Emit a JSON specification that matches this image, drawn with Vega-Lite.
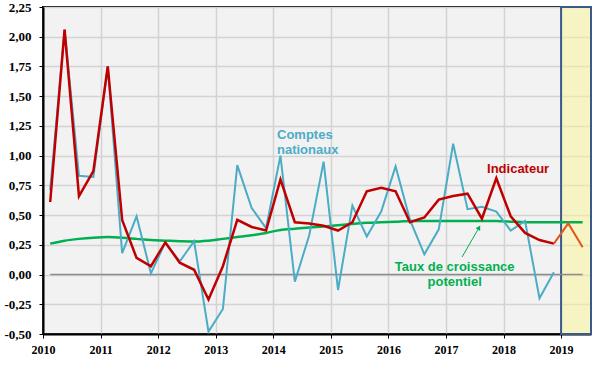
{
  "$schema": "https://vega.github.io/schema/vega-lite/v6.json",
  "width": 548,
  "height": 327,
  "autosize": {"type": "none"},
  "padding": {"left": 43, "top": 7, "right": 9, "bottom": 37},
  "background": "white",
  "config": {
    "view": {"fill": "#F2F2F2", "stroke": "black", "strokeWidth": 2},
    "axis": {
      "labelFont": "Liberation Serif", "labelFontWeight": "bold", "labelColor": "black",
      "tickColor": "black", "tickSize": 4, "domainColor": "black", "domainWidth": 2,
      "grid": true, "gridColor": "#D3D3D3", "gridWidth": 1.5, "labelFlush": false, "labelOverlap": false, "title": null
    },
    "axisX": {"labelFontSize": 12, "labelPadding": 6, "labelDx": 7},
    "axisY": {"labelFontSize": 13, "labelPadding": 8}
  },
  "datasets": {
    "shade": [{"x0": 2019, "x1": 2019.52}],
    "zero": [{"x0": 2010.125, "x1": 2019.375, "y": 0}],
    "series": [
      {"t": 2010.125, "ind": 0.61, "cn": 0.71, "pot": 0.26},
      {"t": 2010.375, "ind": 2.06, "cn": 2.06, "pot": 0.285},
      {"t": 2010.625, "ind": 0.66, "cn": 0.83, "pot": 0.3},
      {"t": 2010.875, "ind": 0.87, "cn": 0.82, "pot": 0.31},
      {"t": 2011.125, "ind": 1.75, "cn": 1.75, "pot": 0.315},
      {"t": 2011.375, "ind": 0.46, "cn": 0.18, "pot": 0.31},
      {"t": 2011.625, "ind": 0.14, "cn": 0.49, "pot": 0.3},
      {"t": 2011.875, "ind": 0.07, "cn": 0.01, "pot": 0.29},
      {"t": 2012.125, "ind": 0.27, "cn": 0.27, "pot": 0.285},
      {"t": 2012.375, "ind": 0.1, "cn": 0.11, "pot": 0.28},
      {"t": 2012.625, "ind": 0.04, "cn": 0.28, "pot": 0.277},
      {"t": 2012.875, "ind": -0.21, "cn": -0.48, "pot": 0.285},
      {"t": 2013.125, "ind": 0.07, "cn": -0.29, "pot": 0.3},
      {"t": 2013.375, "ind": 0.46, "cn": 0.92, "pot": 0.315},
      {"t": 2013.625, "ind": 0.4, "cn": 0.56, "pot": 0.33},
      {"t": 2013.875, "ind": 0.37, "cn": 0.39, "pot": 0.35},
      {"t": 2014.125, "ind": 0.8, "cn": 1.0, "pot": 0.375},
      {"t": 2014.375, "ind": 0.44, "cn": -0.06, "pot": 0.385},
      {"t": 2014.625, "ind": 0.43, "cn": 0.33, "pot": 0.395},
      {"t": 2014.875, "ind": 0.41, "cn": 0.95, "pot": 0.405},
      {"t": 2015.125, "ind": 0.37, "cn": -0.13, "pot": 0.415},
      {"t": 2015.375, "ind": 0.44, "cn": 0.58, "pot": 0.425},
      {"t": 2015.625, "ind": 0.7, "cn": 0.32, "pot": 0.435},
      {"t": 2015.875, "ind": 0.73, "cn": 0.53, "pot": 0.44},
      {"t": 2016.125, "ind": 0.7, "cn": 0.91, "pot": 0.445},
      {"t": 2016.375, "ind": 0.44, "cn": 0.46, "pot": 0.45},
      {"t": 2016.625, "ind": 0.48, "cn": 0.17, "pot": 0.45},
      {"t": 2016.875, "ind": 0.63, "cn": 0.38, "pot": 0.45},
      {"t": 2017.125, "ind": 0.66, "cn": 1.1, "pot": 0.45},
      {"t": 2017.375, "ind": 0.68, "cn": 0.55, "pot": 0.45},
      {"t": 2017.625, "ind": 0.47, "cn": 0.57, "pot": 0.45},
      {"t": 2017.875, "ind": 0.81, "cn": 0.53, "pot": 0.45},
      {"t": 2018.125, "ind": 0.49, "cn": 0.37, "pot": 0.445},
      {"t": 2018.375, "ind": 0.35, "cn": 0.45, "pot": 0.44},
      {"t": 2018.625, "ind": 0.29, "cn": -0.2, "pot": 0.44},
      {"t": 2018.875, "ind": 0.26, "cn": 0.02, "pot": 0.44},
      {"t": 2019.125, "pot": 0.44},
      {"t": 2019.375, "pot": 0.44}
    ],
    "forecast": [
      {"t": 2018.875, "v": 0.26},
      {"t": 2019.125, "v": 0.43},
      {"t": 2019.375, "v": 0.23}
    ],
    "labels": [
      {"x": 2014.065, "y": 1.139, "text": "Comptes\nnationaux", "grp": "cn"},
      {"x": 2017.714, "y": 0.853, "text": "Indicateur", "grp": "ind"},
      {"x": 2017.152, "y": 0.029, "text": "Taux de croissance\npotentiel", "grp": "pot"}
    ],
    "arrow": [{"x0": 2017.28, "y0": 0.147, "x1": 2017.575, "y1": 0.395}]
  },
  "layer": [
    {
      "data": {"name": "shade"},
      "mark": {"type": "rect", "fill": "#FAF692", "fillOpacity": 0.5, "stroke": "#3B5A8C", "strokeWidth": 2, "strokeOpacity": 1},
      "encoding": {
        "x": {
          "field": "x0", "type": "quantitative",
          "scale": {"domain": [2010, 2019.52], "nice": false, "zero": false},
          "axis": {"values": [2010, 2011, 2012, 2013, 2014, 2015, 2016, 2017, 2018, 2019], "format": "d", "labelFont": "Liberation Serif"}
        },
        "x2": {"field": "x1"}
      }
    },
    {
      "data": {"name": "zero"},
      "mark": {"type": "rule", "color": "#8C8C8C", "strokeWidth": 1.5},
      "encoding": {
        "x": {"field": "x0", "type": "quantitative", "axis": {"values": [2010, 2011, 2012, 2013, 2014, 2015, 2016, 2017, 2018, 2019], "format": "d", "labelFont": "Liberation Serif"}},
        "x2": {"field": "x1"},
        "y": {
          "field": "y", "type": "quantitative",
          "scale": {"domain": [-0.5, 2.25], "nice": false, "zero": false},
          "axis": {"values": [-0.5, -0.25, 0, 0.25, 0.5, 0.75, 1, 1.25, 1.5, 1.75, 2, 2.25], "labelFont": "Liberation Serif", "labelExpr": "(datum.value < 0 ? '-' : '') + replace(format(abs(datum.value), '.2f'), '.', ',')"}
        }
      }
    },
    {
      "data": {"name": "series"},
      "mark": {"type": "line", "color": "#00B050", "strokeWidth": 2.5, "interpolate": "monotone"},
      "encoding": {
        "x": {"field": "t", "type": "quantitative", "axis": {"values": [2010, 2011, 2012, 2013, 2014, 2015, 2016, 2017, 2018, 2019], "format": "d", "labelFont": "Liberation Serif"}},
        "y": {"field": "pot", "type": "quantitative", "axis": {"values": [-0.5, -0.25, 0, 0.25, 0.5, 0.75, 1, 1.25, 1.5, 1.75, 2, 2.25], "labelFont": "Liberation Serif", "labelExpr": "(datum.value < 0 ? '-' : '') + replace(format(abs(datum.value), '.2f'), '.', ',')"}}
      }
    },
    {
      "data": {"name": "series"},
      "transform": [{"filter": "isValid(datum.cn)"}],
      "mark": {"type": "line", "color": "#4BACC6", "strokeWidth": 2},
      "encoding": {
        "x": {"field": "t", "type": "quantitative", "axis": {"values": [2010, 2011, 2012, 2013, 2014, 2015, 2016, 2017, 2018, 2019], "format": "d", "labelFont": "Liberation Serif"}},
        "y": {"field": "cn", "type": "quantitative", "axis": {"values": [-0.5, -0.25, 0, 0.25, 0.5, 0.75, 1, 1.25, 1.5, 1.75, 2, 2.25], "labelFont": "Liberation Serif", "labelExpr": "(datum.value < 0 ? '-' : '') + replace(format(abs(datum.value), '.2f'), '.', ',')"}}
      }
    },
    {
      "data": {"name": "series"},
      "transform": [{"filter": "isValid(datum.ind)"}],
      "mark": {"type": "line", "color": "#C00000", "strokeWidth": 2.5},
      "encoding": {
        "x": {"field": "t", "type": "quantitative", "axis": {"values": [2010, 2011, 2012, 2013, 2014, 2015, 2016, 2017, 2018, 2019], "format": "d", "labelFont": "Liberation Serif"}},
        "y": {"field": "ind", "type": "quantitative", "axis": {"values": [-0.5, -0.25, 0, 0.25, 0.5, 0.75, 1, 1.25, 1.5, 1.75, 2, 2.25], "labelFont": "Liberation Serif", "labelExpr": "(datum.value < 0 ? '-' : '') + replace(format(abs(datum.value), '.2f'), '.', ',')"}}
      }
    },
    {
      "data": {"name": "forecast"},
      "mark": {"type": "line", "color": "#E3541F", "strokeWidth": 2},
      "encoding": {
        "x": {"field": "t", "type": "quantitative", "axis": {"values": [2010, 2011, 2012, 2013, 2014, 2015, 2016, 2017, 2018, 2019], "format": "d", "labelFont": "Liberation Serif"}},
        "y": {"field": "v", "type": "quantitative", "axis": {"values": [-0.5, -0.25, 0, 0.25, 0.5, 0.75, 1, 1.25, 1.5, 1.75, 2, 2.25], "labelFont": "Liberation Serif", "labelExpr": "(datum.value < 0 ? '-' : '') + replace(format(abs(datum.value), '.2f'), '.', ',')"}}
      }
    },
    {
      "data": {"name": "arrow"},
      "mark": {"type": "rule", "color": "#00B050", "strokeWidth": 1},
      "encoding": {
        "x": {"field": "x0", "type": "quantitative", "axis": {"values": [2010, 2011, 2012, 2013, 2014, 2015, 2016, 2017, 2018, 2019], "format": "d", "labelFont": "Liberation Serif"}},
        "y": {"field": "y0", "type": "quantitative", "axis": {"values": [-0.5, -0.25, 0, 0.25, 0.5, 0.75, 1, 1.25, 1.5, 1.75, 2, 2.25], "labelFont": "Liberation Serif", "labelExpr": "(datum.value < 0 ? '-' : '') + replace(format(abs(datum.value), '.2f'), '.', ',')"}},
        "x2": {"field": "x1"},
        "y2": {"field": "y1"}
      }
    },
    {
      "data": {"name": "arrow"},
      "mark": {"type": "point", "shape": "triangle-up", "filled": true, "color": "#00B050", "size": 28, "angle": 30, "opacity": 1},
      "encoding": {
        "x": {"field": "x1", "type": "quantitative", "axis": {"values": [2010, 2011, 2012, 2013, 2014, 2015, 2016, 2017, 2018, 2019], "format": "d", "labelFont": "Liberation Serif"}},
        "y": {"field": "y1", "type": "quantitative", "axis": {"values": [-0.5, -0.25, 0, 0.25, 0.5, 0.75, 1, 1.25, 1.5, 1.75, 2, 2.25], "labelFont": "Liberation Serif", "labelExpr": "(datum.value < 0 ? '-' : '') + replace(format(abs(datum.value), '.2f'), '.', ',')"}}
      }
    },
    {
      "data": {"name": "labels"},
      "transform": [{"filter": "datum.grp !== 'pot'"}],
      "mark": {"type": "text", "font": "Liberation Sans", "fontWeight": "bold", "fontSize": 13, "lineBreak": "\n", "lineHeight": 15, "baseline": "alphabetic", "align": "left"},
      "encoding": {
        "x": {"field": "x", "type": "quantitative", "axis": {"values": [2010, 2011, 2012, 2013, 2014, 2015, 2016, 2017, 2018, 2019], "format": "d", "labelFont": "Liberation Serif"}},
        "y": {"field": "y", "type": "quantitative", "axis": {"values": [-0.5, -0.25, 0, 0.25, 0.5, 0.75, 1, 1.25, 1.5, 1.75, 2, 2.25], "labelFont": "Liberation Serif", "labelExpr": "(datum.value < 0 ? '-' : '') + replace(format(abs(datum.value), '.2f'), '.', ',')"}},
        "text": {"field": "text"},
        "color": {
          "field": "grp", "type": "nominal", "legend": null,
          "scale": {"domain": ["cn", "ind", "pot"], "range": ["#4BACC6", "#C00000", "#00B050"]}
        }
      }
    },
    {
      "data": {"name": "labels"},
      "transform": [{"filter": "datum.grp === 'pot'"}],
      "mark": {"type": "text", "font": "Liberation Sans", "fontWeight": "bold", "fontSize": 13, "lineBreak": "\n", "lineHeight": 15, "baseline": "alphabetic", "align": "center"},
      "encoding": {
        "x": {"field": "x", "type": "quantitative", "axis": {"values": [2010, 2011, 2012, 2013, 2014, 2015, 2016, 2017, 2018, 2019], "format": "d", "labelFont": "Liberation Serif"}},
        "y": {"field": "y", "type": "quantitative", "axis": {"values": [-0.5, -0.25, 0, 0.25, 0.5, 0.75, 1, 1.25, 1.5, 1.75, 2, 2.25], "labelFont": "Liberation Serif", "labelExpr": "(datum.value < 0 ? '-' : '') + replace(format(abs(datum.value), '.2f'), '.', ',')"}},
        "text": {"field": "text"},
        "color": {
          "field": "grp", "type": "nominal", "legend": null,
          "scale": {"domain": ["cn", "ind", "pot"], "range": ["#4BACC6", "#C00000", "#00B050"]}
        }
      }
    }
  ]
}
